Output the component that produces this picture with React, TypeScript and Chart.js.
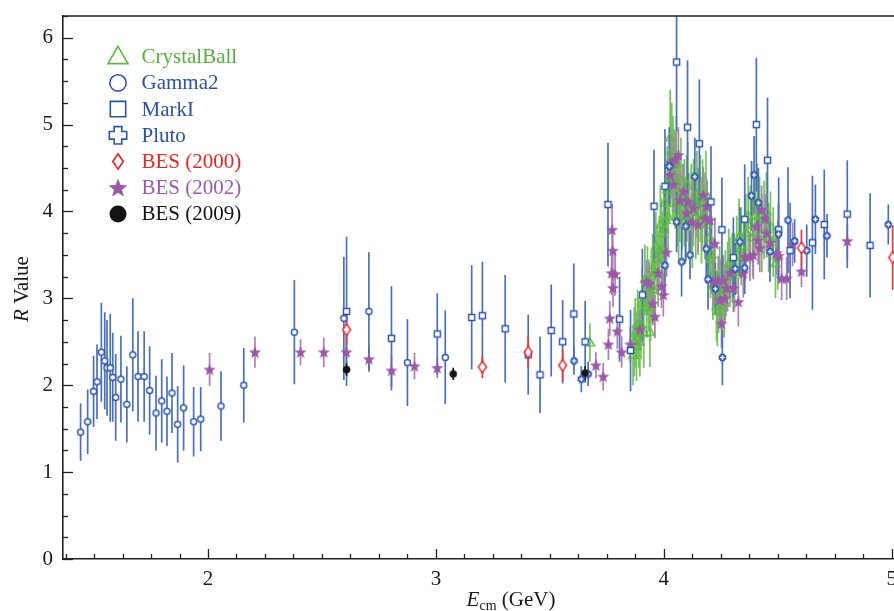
import React, { useEffect, useRef } from 'react';
import { Chart, registerables } from 'chart.js';

Chart.register(...registerables);

// ---------------- data ----------------
const seriesLabels = ['CrystalBall', 'Gamma2', 'MarkI', 'Pluto', 'BES (2000)', 'BES (2002)', 'BES (2009)'];

const xTickValues = [2, 3, 4, 5];
const yTickValues = [0, 1, 2, 3, 4, 5, 6];

const crystalBallE = [3.676,3.865,3.870,3.875,3.880,3.885,3.890,3.895,3.900,3.905,3.910,3.912,3.917,3.925,3.928,3.933,3.939,3.942,3.945,3.951,3.955,3.960,3.965,3.970,3.975,3.980,3.985,3.990,3.995,4.000,4.005,4.010,4.015,4.019,4.025,4.028,4.030,4.035,4.038,4.040,4.045,4.050,4.055,4.060,4.065,4.070,4.075,4.080,4.090,4.095,4.100,4.105,4.110,4.120,4.125,4.130,4.140,4.145,4.150,4.160,4.165,4.170,4.180,4.185,4.190,4.200,4.205,4.210,4.215,4.220,4.231,4.235,4.240,4.245,4.250,4.255,4.260,4.265,4.270,4.280,4.285,4.290,4.300,4.310,4.320,4.330,4.340,4.350,4.360,4.370,4.380,4.390,4.400,4.410,4.420,4.430,4.440,4.450,4.460,4.468,4.480,4.490,4.500];
const crystalBallR = [2.49,2.35,2.50,2.60,2.45,2.70,2.60,2.50,2.70,2.95,2.85,2.60,3.22,2.95,3.20,3.05,2.61,2.90,3.15,3.34,3.10,3.30,3.60,3.45,3.30,3.55,3.85,3.75,3.55,3.80,4.10,3.90,4.25,3.94,4.40,4.85,4.60,4.70,4.45,4.55,4.40,4.30,4.55,4.10,3.95,4.15,4.35,4.05,4.10,3.90,4.15,4.30,3.95,4.05,3.85,4.10,3.95,4.20,4.00,4.15,3.90,4.10,3.95,4.20,3.85,3.70,3.45,3.50,3.15,3.30,2.91,2.85,3.00,3.20,3.05,2.85,3.10,2.95,3.15,3.25,3.40,3.30,3.35,3.30,3.50,3.70,3.60,3.50,3.75,3.95,3.85,3.70,3.95,4.10,3.95,3.75,3.90,4.00,3.70,3.83,3.65,3.40,3.50];
const crystalBallErr = [0.22,0.35,0.40,0.40,0.40,0.40,0.40,0.40,0.40,0.40,0.40,0.40,0.40,0.40,0.40,0.40,0.40,0.40,0.40,0.40,0.40,0.40,0.40,0.40,0.40,0.40,0.45,0.40,0.45,0.45,0.45,0.45,0.50,0.45,0.50,0.55,0.55,0.55,0.55,0.55,0.55,0.50,0.55,0.50,0.50,0.50,0.50,0.50,0.50,0.50,0.50,0.50,0.50,0.50,0.50,0.50,0.50,0.50,0.50,0.50,0.50,0.50,0.50,0.50,0.50,0.45,0.45,0.45,0.40,0.40,0.40,0.40,0.40,0.40,0.40,0.40,0.40,0.40,0.40,0.40,0.40,0.40,0.40,0.45,0.45,0.45,0.45,0.45,0.45,0.45,0.45,0.45,0.45,0.45,0.45,0.45,0.45,0.45,0.40,0.40,0.40,0.40,0.40];

const gamma2E = [1.441,1.472,1.498,1.513,1.532,1.547,1.557,1.571,1.582,1.595,1.618,1.644,1.670,1.693,1.720,1.744,1.772,1.797,1.820,1.842,1.867,1.893,1.937,1.968,2.057,2.157,2.379,2.596,2.706,2.875,3.041];
const gamma2R = [1.46,1.58,1.93,2.04,2.38,2.28,2.20,2.20,2.09,1.86,2.07,1.78,2.35,2.10,2.10,1.94,1.68,1.82,1.70,1.91,1.55,1.74,1.58,1.61,1.76,2.00,2.61,2.77,2.85,2.26,2.32];
const gamma2Err = [0.33,0.37,0.41,0.43,0.57,0.56,0.55,0.62,0.51,0.50,0.50,0.44,0.65,0.52,0.52,0.51,0.43,0.48,0.40,0.46,0.44,0.49,0.40,0.37,0.40,0.43,0.60,0.71,0.68,0.50,0.54];

const markIE = [2.608,2.805,3.006,3.157,3.204,3.304,3.405,3.457,3.506,3.556,3.605,3.655,3.755,3.806,3.854,3.906,3.957,4.005,4.056,4.104,4.156,4.207,4.255,4.305,4.355,4.406,4.455,4.504,4.554,4.652,4.704,4.805,4.905];
const markIR = [2.85,2.54,2.59,2.78,2.80,2.65,2.35,2.12,2.63,2.50,2.82,2.50,4.08,2.76,2.40,3.04,4.06,4.29,5.72,4.97,4.78,4.11,3.79,3.47,3.91,5.00,4.59,3.79,3.55,3.64,3.85,3.97,3.61];
const markIErr = [0.86,0.60,0.47,0.60,0.62,0.62,0.46,0.44,0.53,0.48,0.58,0.47,0.71,0.49,0.47,0.53,0.65,0.66,0.80,0.77,0.74,0.64,0.60,0.46,0.63,0.77,0.72,0.60,0.55,0.77,0.63,0.62,0.60];

const plutoE = [3.606,3.638,3.668,4.005,4.024,4.056,4.078,4.096,4.115,4.136,4.186,4.194,4.226,4.257,4.313,4.334,4.355,4.385,4.396,4.415,4.466,4.503,4.545,4.574,4.627,4.665,4.716,4.985];
const plutoR = [2.28,2.07,2.13,3.38,4.52,3.88,3.42,3.83,3.50,4.40,3.57,3.22,3.11,2.32,3.34,3.65,3.35,4.18,4.42,4.10,3.54,3.74,3.90,3.66,3.55,3.91,3.72,3.85];
const plutoErr = [0.16,0.15,0.14,0.35,0.45,0.35,0.40,0.40,0.28,0.45,0.40,0.35,0.30,0.32,0.30,0.40,0.30,0.40,0.45,0.40,0.35,0.35,0.61,0.25,0.30,0.40,0.25,0.23];

const bes2000E = [2.608,3.204,3.405,3.556,4.604,5.004];
const bes2000R = [2.64,2.21,2.38,2.23,3.58,3.47];
const bes2000Err = [0.17,0.13,0.18,0.18,0.21,0.37];

const bes2002E = [2.007,2.206,2.406,2.508,2.607,2.706,2.805,2.906,3.006,3.702,3.734,3.757,3.763,3.771,3.773,3.776,3.777,3.786,3.796,3.815,3.853,3.895,3.924,3.936,3.951,3.961,3.975,3.990,3.998,4.012,4.027,4.035,4.042,4.050,4.064,4.071,4.086,4.100,4.107,4.122,4.129,4.151,4.173,4.180,4.188,4.202,4.217,4.224,4.239,4.246,4.253,4.261,4.268,4.275,4.291,4.305,4.327,4.349,4.356,4.378,4.393,4.407,4.414,4.421,4.429,4.444,4.451,4.466,4.495,4.503,4.517,4.539,4.565,4.604,4.805];
const bes2002R = [2.18,2.38,2.38,2.38,2.38,2.30,2.17,2.22,2.20,2.23,2.10,2.47,2.77,3.29,3.79,3.55,3.12,3.28,2.62,2.38,2.47,2.64,3.19,3.17,2.94,2.79,3.29,3.14,3.04,3.53,4.42,4.56,4.31,4.60,4.65,4.13,4.23,3.98,4.11,3.88,4.04,3.85,4.19,3.92,4.06,3.90,3.19,3.63,3.21,2.98,2.71,3.21,3.00,3.12,3.29,3.12,2.96,3.29,3.48,3.48,3.50,3.83,3.67,3.58,4.02,3.92,3.75,3.64,3.52,3.49,3.23,3.23,3.62,3.31,3.66];
const bes2002Err = [0.19,0.18,0.15,0.17,0.17,0.15,0.19,0.15,0.12,0.15,0.16,0.18,0.20,0.25,0.30,0.25,0.22,0.25,0.20,0.18,0.20,0.22,0.25,0.25,0.25,0.25,0.25,0.25,0.25,0.28,0.32,0.32,0.32,0.32,0.32,0.32,0.32,0.32,0.32,0.32,0.32,0.32,0.32,0.32,0.32,0.30,0.28,0.30,0.28,0.28,0.28,0.28,0.28,0.28,0.28,0.28,0.28,0.28,0.28,0.28,0.28,0.28,0.28,0.28,0.28,0.28,0.28,0.28,0.25,0.25,0.25,0.25,0.25,0.18,0.20];

const bes2009E = [2.608,3.076,3.655];
const bes2009R = [2.18,2.13,2.14];
const bes2009Err = [0.07,0.07,0.08];

const seriesE = [crystalBallE, gamma2E, markIE, plutoE, bes2000E, bes2002E, bes2009E];
const seriesR = [crystalBallR, gamma2R, markIR, plutoR, bes2000R, bes2002R, bes2009R];
const seriesErr = [crystalBallErr, gamma2Err, markIErr, plutoErr, bes2000Err, bes2002Err, bes2009Err];

// ---------------- styles ----------------
const X_MIN = 1.3638;
const X_MAX = 5.06;
const Y_MIN = 0;
const Y_MAX = 6.25;
const CANVAS_W = 930;
const CANVAS_H = 611;
const FONT = '"Liberation Serif", "Times New Roman", serif';

type Style = { marker: string; color: string; bar: string; text: string; size: number; lw: number; legendSize: number; drawOrder: number };
const seriesStyles: Style[] = [
  { marker: 'triangle', color: '#5db846', bar: '#74c459', text: '#55b23e', size: 9, lw: 1.4, legendSize: 20, drawOrder: 7 },
  { marker: 'circle', color: '#2a55ae', bar: '#4a70bf', text: '#2b52a6', size: 7.5, lw: 1.4, legendSize: 18, drawOrder: 5 },
  { marker: 'square', color: '#2a55ae', bar: '#4a70bf', text: '#2b52a6', size: 7.5, lw: 1.4, legendSize: 17, drawOrder: 4 },
  { marker: 'plus', color: '#2a55ae', bar: '#4a70bf', text: '#2b52a6', size: 7.5, lw: 1.6, legendSize: 19, drawOrder: 3 },
  { marker: 'diamond', color: '#ee1d23', bar: '#f03a3a', text: '#ee2424', size: 13, lw: 1.4, legendSize: 17, drawOrder: 2 },
  { marker: 'star', color: '#9c58a8', bar: '#b17cba', text: '#9c5ba8', size: 13, lw: 1.4, legendSize: 20, drawOrder: 6 },
  { marker: 'dot', color: '#141414', bar: '#141414', text: '#141414', size: 7.5, lw: 1.4, legendSize: 17, drawOrder: 1 },
];

function drawMarker(ctx: CanvasRenderingContext2D, kind: string, cx: number, cy: number, s: number, color: string, lw: number) {
  ctx.save();
  ctx.lineWidth = lw;
  ctx.strokeStyle = color;
  ctx.fillStyle = '#ffffff';
  ctx.lineJoin = 'miter';
  ctx.beginPath();
  if (kind === 'triangle') {
    const w = s, h = s * 0.87;
    ctx.moveTo(cx, cy - h * 0.6);
    ctx.lineTo(cx - w / 2, cy + h * 0.4);
    ctx.lineTo(cx + w / 2, cy + h * 0.4);
    ctx.closePath();
    ctx.stroke();
  } else if (kind === 'circle') {
    ctx.arc(cx, cy, s / 2 - lw / 2, 0, Math.PI * 2);
    ctx.fill();
    ctx.stroke();
  } else if (kind === 'square') {
    const h = s / 2 - lw / 2;
    ctx.rect(cx - h, cy - h, 2 * h, 2 * h);
    ctx.fill();
    ctx.stroke();
  } else if (kind === 'plus') {
    const a = s / 2 - lw / 2, t = s * 0.2;
    ctx.moveTo(cx - t, cy - a); ctx.lineTo(cx + t, cy - a); ctx.lineTo(cx + t, cy - t);
    ctx.lineTo(cx + a, cy - t); ctx.lineTo(cx + a, cy + t); ctx.lineTo(cx + t, cy + t);
    ctx.lineTo(cx + t, cy + a); ctx.lineTo(cx - t, cy + a); ctx.lineTo(cx - t, cy + t);
    ctx.lineTo(cx - a, cy + t); ctx.lineTo(cx - a, cy - t); ctx.lineTo(cx - t, cy - t);
    ctx.closePath();
    ctx.fill();
    ctx.stroke();
  } else if (kind === 'diamond') {
    const h = s / 2 - lw / 2, w = h * 0.68;
    ctx.moveTo(cx, cy - h); ctx.lineTo(cx + w, cy); ctx.lineTo(cx, cy + h); ctx.lineTo(cx - w, cy);
    ctx.closePath();
    ctx.fill();
    ctx.stroke();
  } else if (kind === 'star') {
    const ro = s / 2, ri = ro * 0.42;
    for (let k = 0; k < 10; k++) {
      const r = k % 2 === 0 ? ro : ri;
      const ang = -Math.PI / 2 + (k * Math.PI) / 5;
      const px = cx + r * Math.cos(ang), py = cy + r * Math.sin(ang) + ro * 0.08;
      if (k === 0) ctx.moveTo(px, py); else ctx.lineTo(px, py);
    }
    ctx.closePath();
    ctx.fillStyle = color;
    ctx.fill();
  } else if (kind === 'dot') {
    ctx.arc(cx, cy, s / 2, 0, Math.PI * 2);
    ctx.fillStyle = color;
    ctx.fill();
  }
  ctx.restore();
}

function markerCanvas(kind: string, s: number, color: string, lw: number): HTMLCanvasElement {
  const c = document.createElement('canvas');
  const dim = Math.ceil(s + lw * 2 + 2);
  c.width = dim;
  c.height = dim;
  const ctx = c.getContext('2d')!;
  drawMarker(ctx, kind, dim / 2, dim / 2, s, color, lw);
  return c;
}

// ---------------- plugins ----------------
const errorBarPlugin = {
  id: 'errorBars',
  beforeDatasetsDraw(chart: any) {
    const { ctx, chartArea, scales } = chart;
    const xs = scales.x, ys = scales.y;
    ctx.save();
    ctx.beginPath();
    ctx.rect(chartArea.left, chartArea.top, chartArea.right - chartArea.left, chartArea.bottom - chartArea.top);
    ctx.clip();
    const idx = seriesStyles.map((_, i) => i).sort((a, b) => seriesStyles[b].drawOrder - seriesStyles[a].drawOrder);
    idx.forEach((i) => {
      ctx.strokeStyle = seriesStyles[i].bar;
      ctx.lineWidth = 1.7;
      seriesE[i].forEach((e, j) => {
        const px = xs.getPixelForValue(e);
        ctx.beginPath();
        ctx.moveTo(px, ys.getPixelForValue(seriesR[i][j] - seriesErr[i][j]));
        ctx.lineTo(px, ys.getPixelForValue(seriesR[i][j] + seriesErr[i][j]));
        ctx.stroke();
      });
    });
    ctx.restore();
  },
};

const frameTicksPlugin = {
  id: 'frameTicks',
  afterDatasetsDraw(chart: any) {
    const { ctx, chartArea, scales } = chart;
    const xs = scales.x, ys = scales.y;
    ctx.save();
    ctx.strokeStyle = '#222222';
    ctx.lineWidth = 1.3;
    for (let k = Math.ceil(X_MIN * 8); k <= Math.floor(X_MAX * 8); k++) {
      const px = Math.round(xs.getPixelForValue(k / 8)) + 0.5;
      const len = k % 8 === 0 ? 10 : 5;
      ctx.beginPath();
      ctx.moveTo(px, chartArea.bottom);
      ctx.lineTo(px, chartArea.bottom - len);
      ctx.stroke();
    }
    for (let k = Math.ceil(Y_MIN * 4); k <= Math.floor(Y_MAX * 4); k++) {
      const py = Math.round(ys.getPixelForValue(k / 4)) + 0.5;
      const len = k % 4 === 0 ? 10 : 5;
      ctx.beginPath();
      ctx.moveTo(chartArea.left, py);
      ctx.lineTo(chartArea.left + len, py);
      ctx.stroke();
    }
    ctx.lineWidth = 1.6;
    ctx.beginPath();
    ctx.moveTo(chartArea.left, chartArea.top);
    ctx.lineTo(chartArea.right, chartArea.top);
    ctx.stroke();
    ctx.restore();
  },
};

const axisTitlePlugin = {
  id: 'axisTitles',
  afterDraw(chart: any) {
    const { ctx, chartArea } = chart;
    ctx.save();
    ctx.fillStyle = '#1a1a1a';
    ctx.textBaseline = 'alphabetic';
    const fBig = `21px ${FONT}`, fIt = `italic 21px ${FONT}`, fSub = `14px ${FONT}`;
    ctx.font = fIt; const wE = ctx.measureText('E').width;
    ctx.font = fSub; const wSub = ctx.measureText('cm').width;
    ctx.font = fBig; const wRest = ctx.measureText(' (GeV)').width;
    const total = wE + wSub + wRest;
    let x0 = chartArea.left + 448 - total / 2;
    const base = 606;
    ctx.textAlign = 'left';
    ctx.font = fIt; ctx.fillText('E', x0, base); x0 += wE;
    ctx.font = fSub; ctx.fillText('cm', x0, base + 4); x0 += wSub;
    ctx.font = fBig; ctx.fillText(' (GeV)', x0, base);
    ctx.translate(28, 289);
    ctx.rotate(-Math.PI / 2);
    ctx.font = fIt; const wR = ctx.measureText('R').width;
    ctx.font = fBig; const wV = ctx.measureText(' Value').width;
    let y0 = -(wR + wV) / 2;
    ctx.font = fIt; ctx.fillText('R', y0, 0); y0 += wR;
    ctx.font = fBig; ctx.fillText(' Value', y0, 0);
    ctx.restore();
  },
};

const legendPlugin = {
  id: 'inAreaLegend',
  afterDraw(chart: any) {
    const { ctx, chartArea } = chart;
    ctx.save();
    ctx.font = `21px ${FONT}`;
    ctx.textAlign = 'left';
    ctx.textBaseline = 'middle';
    chart.data.datasets.forEach((ds: any, i: number) => {
      const st = seriesStyles[i];
      const cy = chartArea.top + 40.7 + i * 26.2;
      const mx = chartArea.left + 55;
      drawMarker(ctx, st.marker, mx, cy, st.legendSize, st.color, 1.6);
      ctx.fillStyle = st.text;
      ctx.fillText(ds.label, chartArea.left + 78.5, cy + 1);
    });
    ctx.restore();
  },
};

export default function App() {
  const ref = useRef<HTMLCanvasElement | null>(null);
  useEffect(() => {
    if (!ref.current) return;
    Chart.defaults.font.family = FONT;
    const datasets = seriesLabels.map((label, i) => {
      const st = seriesStyles[i];
      return {
        label,
        data: seriesE[i].map((e, j) => ({ x: e, y: seriesR[i][j] })),
        pointStyle: markerCanvas(st.marker, st.size, st.color, st.lw),
        pointRadius: 4,
        pointHoverRadius: 4,
        backgroundColor: st.color,
        borderColor: st.color,
        showLine: false,
        order: st.drawOrder,
      };
    });
    const chart = new Chart(ref.current, {
      type: 'scatter',
      data: { datasets },
      options: {
        responsive: false,
        animation: false,
        devicePixelRatio: 1,
        events: [],
        layout: { padding: { top: 16, right: CANVAS_W - 905.4, left: 0, bottom: 0 } },
        plugins: { legend: { display: false }, tooltip: { enabled: false } },
        scales: {
          x: {
            type: 'linear',
            min: X_MIN,
            max: X_MAX,
            grid: { display: false, drawTicks: false },
            border: { display: true, color: '#222222', width: 1.6 },
            ticks: { font: { size: 21 }, color: '#1a1a1a', padding: 8, maxRotation: 0, autoSkip: false },
            afterBuildTicks: (s: any) => { s.ticks = xTickValues.map((v) => ({ value: v })); },
            afterFit: (s: any) => { s.height = 52; s.paddingLeft = 0; s.paddingRight = 0; },
          },
          y: {
            type: 'linear',
            min: Y_MIN,
            max: Y_MAX,
            grid: { display: false, drawTicks: false },
            border: { display: true, color: '#222222', width: 1.6 },
            ticks: { font: { size: 21 }, color: '#1a1a1a', padding: 10 },
            afterBuildTicks: (s: any) => { s.ticks = yTickValues.map((v) => ({ value: v })); },
            afterFit: (s: any) => { s.width = 63; s.paddingTop = 0; s.paddingBottom = 0; },
          },
        },
      },
      plugins: [errorBarPlugin, frameTicksPlugin, axisTitlePlugin, legendPlugin],
    } as any);
    return () => chart.destroy();
  }, []);
  return (
    <div style={{ position: 'absolute', left: 0, top: 0, width: 894, height: 611, overflow: 'hidden', background: '#ffffff' }}>
      <canvas ref={ref} width={CANVAS_W} height={CANVAS_H} style={{ display: 'block', width: CANVAS_W, height: CANVAS_H }} />
    </div>
  );
}
